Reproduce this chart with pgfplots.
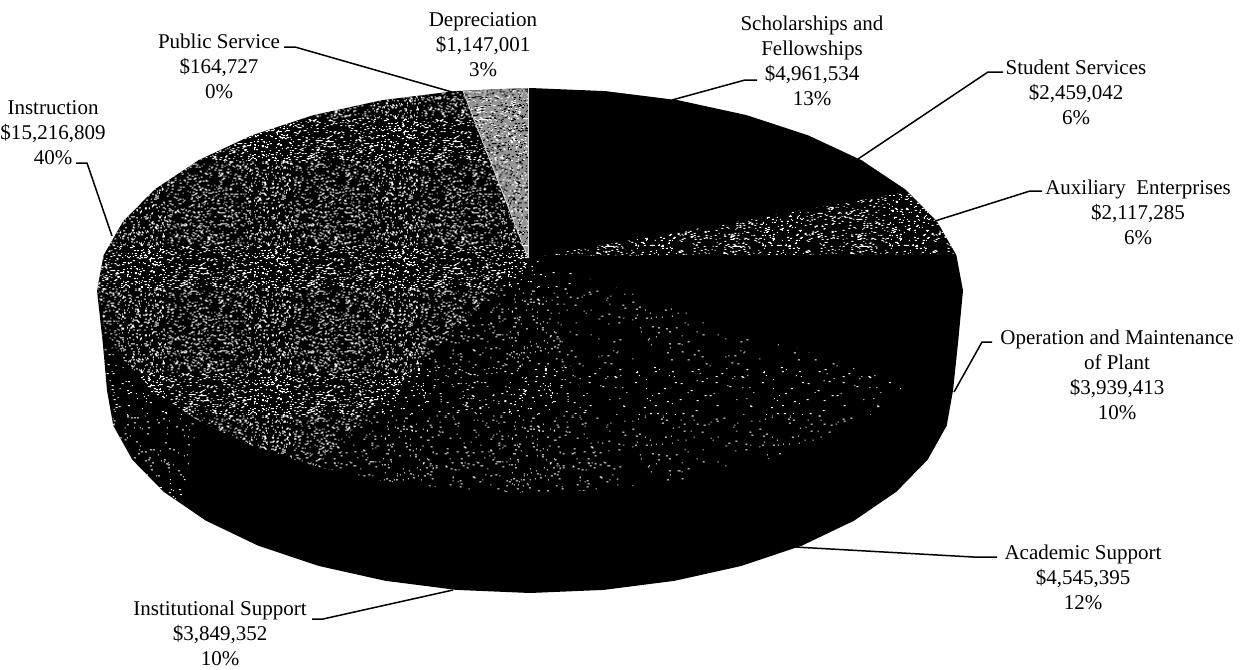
\documentclass[border=0pt]{standalone}
\usepackage{pgfplots}
\pgfplotsset{compat=1.18}
\usepackage{fontspec}
\setmainfont{Liberation Serif}
\usetikzlibrary{patterns}

% Halftone grain: a Lehmer sequence places small flecks in a 127-unit tile.
\newcount\speckstate \newcount\speckaux \newcount\speckhi \newcount\speckleft
\newcount\speckx \newcount\specky \newcount\speckw
\def\nextspeck{\speckhi=\speckstate \divide\speckhi by 127773
  \speckaux=\speckhi \multiply\speckaux by 127773
  \advance\speckstate by -\speckaux \multiply\speckstate by 16807
  \speckaux=\speckhi \multiply\speckaux by 2836
  \advance\speckstate by -\speckaux
  \ifnum\speckstate<0 \advance\speckstate by 2147483647 \fi}
\def\speckmod#1#2{#1=\speckstate \speckaux=#1 \divide\speckaux by #2
  \multiply\speckaux by #2 \advance#1 by -\speckaux}
\newcommand\speckfield[3]{%
  \speckstate=#2 \speckleft=#1
  \loop\ifnum\speckleft>0
    \nextspeck\speckmod\speckx{127}%
    \nextspeck\speckmod\specky{127}%
    \nextspeck\speckmod\speckw{#3}\advance\speckw by 1
    \pgfpathrectangle{\pgfqpoint{\dimexpr.5pt*\speckx\relax}{\dimexpr.5pt*\specky\relax}}%
      {\pgfqpoint{\dimexpr.5pt*\speckw\relax}{.5pt}}%
    \advance\speckleft by -1
  \repeat
  \pgfusepath{fill}}
\newcommand\declarespeck[4]{\pgfdeclarepatternformonly{#1}{\pgfqpoint{0pt}{0pt}}%
  {\pgfqpoint{63.5pt}{63.5pt}}{\pgfqpoint{63.5pt}{63.5pt}}{\speckfield{#2}{#3}{#4}}}
\declarespeck{grainInstruction}{1700}{10211}{2}
\declarespeck{grainAuxiliary}{1150}{40993}{2}
\declarespeck{grainInstitutional}{420}{22037}{2}
\declarespeck{grainAcademic}{170}{9071}{2}
\declarespeck{grainWall}{330}{33013}{2}

\tikzset{lab/.style={align=center,inner sep=0pt,font=\fontsize{10.5}{12.5}\selectfont}}
\pgfplotsset{leader/.style={black,line width=.75pt,line join=round},
  grain/.style={draw=none,pattern=#1,pattern color=white}}

\begin{document}
\begin{tikzpicture}
\begin{axis}[scale only axis,width=623pt,height=334.5pt,
  xmin=0,xmax=1246,ymin=0,ymax=669,y dir=reverse,axis lines=none,no markers]

% Reserve the full plotting rectangle as the picture's extent
\path (rel axis cs:0,0) rectangle (rel axis cs:1,1);

% Solid body of the pie: upper rim, then the lower edge of the side wall
\addplot[fill=black,draw=none] coordinates {
 (530,88)(605.2,91.1)(678.1,100.2)(746.5,115.1)(808.3,135.4)(861.7,160.3)(905,189.2)(936.9,221.2)(956.4,255.3)(963,290.5)
 (958,343)(953,390.5)(946.7,425.7)(927.6,459.8)(896.3,491.8)(854,520.7)(802,545.6)(741.5,565.9)(674.7,580.8)(603.6,589.9)
 (530,593)(456.4,589.9)(385.3,580.8)(318.5,565.9)(258,545.6)(206,520.7)(163.7,491.8)(132.4,459.8)(113.3,425.7)(107,390.5)
 (103,345)(97,290.5)(103.6,255.3)(123.1,221.2)(155,189.2)(198.3,160.3)(251.7,135.4)(313.5,115.1)(381.9,100.2)(454.8,91.1)
} --cycle;

% Side wall below the Instruction slice
\addplot[grain=grainWall] coordinates {
 (97,290.5)(103.6,325.7)(123.1,359.8)(155,391.8)(198.3,420.7)(180,505)(163.7,491.8)(132.4,459.8)(113.3,425.7)(107,390.5)(103,345)
} --cycle;

% Instruction
\addplot[grain=grainInstruction] coordinates {
 (528,258)(463,91)(454.8,91.1)(381.9,100.2)(313.5,115.1)(251.7,135.4)(198.3,160.3)(155,189.2)(123.1,221.2)(103.6,255.3)(97,290.5)
 (103.6,325.7)(123.1,359.8)(155,391.8)(198.3,420.7)(251.7,445.6)(315,466.3)
} --cycle;

% Depreciation: mid grey broken up by dark and light flecks
\addplot[fill=white!58!black,draw=none] coordinates {(528,258)(528,88)(505,88.8)(463,91)} --cycle;
\addplot[draw=none,pattern=grainInstruction,pattern color=black] coordinates {(528,258)(528,88)(505,88.8)(463,91)} --cycle;
\addplot[draw=none,pattern=grainAuxiliary,pattern color=white] coordinates {(528,258)(528,88)(505,88.8)(463,91)} --cycle;
\addplot[white!85!black,line width=.4pt] coordinates {(528,258)(463,91)};
\addplot[white!85!black,line width=.5pt] coordinates {(528,258)(528,88)};

% Auxiliary Enterprises
\addplot[grain=grainAuxiliary] coordinates {(540,256)(907,192)(936.9,221.2)(956,254)} --cycle;

% Institutional Support
\addplot[grain=grainInstitutional] coordinates {
 (528,258)(315,466.3)(381.9,480.8)(454.8,489.9)(530,493)(605.2,489.9)(620,488)
} --cycle;

% Academic Support
\addplot[grain=grainAcademic] coordinates {
 (528,258)(620,488)(678.1,480.8)(746.5,465.9)(808.3,445.6)(861.7,420.7)(912,387)
} --cycle;

% Leader lines
\addplot[leader] coordinates {(284,47)(295,47)(452,92)};
\addplot[leader] coordinates {(76,163)(87,163)(112,236)};
\addplot[leader] coordinates {(757,80)(745,80)(672,100)};
\addplot[leader] coordinates {(1003,72)(988,72)(858,159)};
\addplot[leader] coordinates {(1042,191)(1030,191)(935,221)};
\addplot[leader] coordinates {(992,342)(982,342)(954,392)};
\addplot[leader] coordinates {(997,557)(973,557)(795,547)};
\addplot[leader] coordinates {(312,619)(323,619)(453,590)};

% Category labels
\node[lab] at (axis cs:483,45) {Depreciation\\\$1,147,001\\3\%};
\node[lab] at (axis cs:219,66) {Public Service\\\$164,727\\0\%};
\node[lab] at (axis cs:53,133) {Instruction\\\$15,216,809\\40\%};
\node[lab] at (axis cs:812,61) {Scholarships and\\Fellowships\\\$4,961,534\\13\%};
\node[lab] at (axis cs:1076,92) {Student Services\\\$2,459,042\\6\%};
\node[lab] at (axis cs:1138,212) {Auxiliary\ \ Enterprises\\\$2,117,285\\6\%};
\node[lab] at (axis cs:1117,375) {Operation and Maintenance\\of Plant\\\$3,939,413\\10\%};
\node[lab] at (axis cs:1083,577) {Academic Support\\\$4,545,395\\12\%};
\node[lab] at (axis cs:220,633) {Institutional Support\\\$3,849,352\\10\%};
\end{axis}
\end{tikzpicture}
\end{document}
